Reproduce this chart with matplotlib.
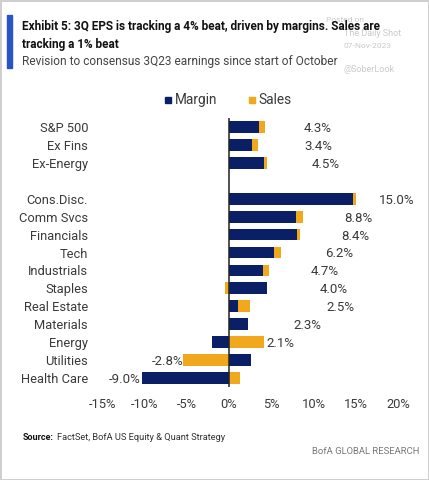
import numpy as np
import matplotlib
matplotlib.use("Agg")
import matplotlib.pyplot as plt
from matplotlib.patches import Rectangle

plt.rcParams['font.family'] = ['Roboto', 'DejaVu Sans']

# data: revision to consensus 3Q23 earnings (%), margin and sales contributions
categories = ['S&P 500', 'Ex Fins', 'Ex-Energy',
              'Cons.Disc.', 'Comm Svcs', 'Financials', 'Tech', 'Industrials',
              'Staples', 'Real Estate', 'Materials', 'Energy', 'Utilities', 'Health Care']
margin = [3.6, 2.7, 4.1, 14.7, 7.9, 8.1, 5.3, 4.0, 4.5, 1.1, 2.3, -2.0, 2.6, -10.3]
sales = [0.7, 0.7, 0.4, 0.3, 0.9, 0.3, 0.9, 0.7, -0.5, 1.4, 0.0, 4.1, -5.4, 1.3]
totals = [4.3, 3.4, 4.5, 15.0, 8.8, 8.4, 6.2, 4.7, 4.0, 2.5, 2.3, 2.1, -2.8, -9.0]
# where the total labels sit (x, in %), as placed in the original exhibit
label_pos = [8.8, 8.9, 9.8, 17.8, 13.7, 13.3, 11.4, 9.7, 10.7, 11.5, 7.6, 4.4, -5.4, -10.4]
xticks = [-15, -10, -5, 0, 5, 10, 15, 20]

navy = '#0b1f66'
orange = '#f2a81d'
grey = '#3a3a3a'

margin = np.array(margin)
sales = np.array(sales)
# one blank row between the index rows and the sectors
ypos = np.array([0, 1, 2] + list(range(4, 15)))
# sales stacks on margin only when both go the same way
sales_left = np.where(np.sign(sales) == np.sign(margin), margin, 0)

fig = plt.figure(figsize=(4.29, 4.80), dpi=100)
fig.patch.set_edgecolor('#cfcfcf')
fig.patch.set_linewidth(2)

ax = fig.add_axes([102 / 429, 1 - 387 / 480, 296 / 429, 269 / 480])
ax.barh(ypos, margin, height=0.66, color=navy, label='Margin')
ax.barh(ypos, sales, left=sales_left, height=0.66, color=orange, label='Sales')
ax.axvline(0, color='#222222', lw=1.1)

for y, x, t in zip(ypos, label_pos, totals):
    ax.text(x, y + 0.08, f"{t:.1f}%", ha='left' if t >= 0 else 'right', va='center',
            fontsize=9.5, color=grey)

ax.set_xlim(-15, 20)
ax.set_ylim(14.5, -0.5)
ax.set_xticks(xticks)
ax.set_xticklabels([f"{t}%" for t in xticks])
ax.set_yticks(ypos)
ax.set_yticklabels(categories)
ax.tick_params(length=0, labelsize=9.3, labelcolor=grey)
ax.tick_params(axis='x', pad=8)
ax.tick_params(axis='y', pad=10)
for s in ax.spines.values():
    s.set_visible(False)

# legend
fig.patches.append(Rectangle((165 / 429, 1 - 103 / 480), 6 / 429, 6 / 480,
                             transform=fig.transFigure, color=navy))
fig.text(175 / 429, 1 - 100 / 480, 'Margin', fontsize=9.8, color=grey, va='center')
fig.patches.append(Rectangle((249 / 429, 1 - 103 / 480), 6 / 429, 6 / 480,
                             transform=fig.transFigure, color=orange))
fig.text(258 / 429, 1 - 100 / 480, 'Sales', fontsize=9.8, color=grey, va='center')

# watermark
wm = '#cacaca'
fig.text(326 / 429, 1 - 20 / 480, 'Posted on', fontsize=6, color=wm, va='center', zorder=0)
fig.text(344 / 429, 1 - 33 / 480, 'The Daily Shot', fontsize=6.5, color=wm, va='center', zorder=0)
fig.text(343 / 429, 1 - 46 / 480, '07-Nov-2023', fontsize=6, color=wm, va='center', zorder=0)
fig.text(343 / 429, 1 - 69 / 480, '@SoberLook', fontsize=6.5, color=wm, va='center', zorder=0)

# title block
fig.patches.append(Rectangle((7 / 429, 1 - 68 / 480), 5 / 429, 53 / 480,
                             transform=fig.transFigure, color='#2b55c4'))
fig.text(22 / 429, 1 - 30 / 480,
         'Exhibit 5: 3Q EPS is tracking a 4% beat, driven by margins. Sales are',
         fontsize=8.45, fontweight='bold', color='#111111', va='baseline')
fig.text(22 / 429, 1 - 48 / 480, 'tracking a 1% beat',
         fontsize=8.45, fontweight='bold', color='#111111', va='baseline')
fig.text(22 / 429, 1 - 65 / 480, 'Revision to consensus 3Q23 earnings since start of October',
         fontsize=8.6, color='#444444', va='baseline')

# footer
fig.text(23 / 429, 1 - 437 / 480, 'Source:', fontsize=6.5, fontweight='bold',
         color='#111111', va='center')
fig.text(57 / 429, 1 - 437 / 480, 'FactSet, BofA US Equity & Quant Strategy',
         fontsize=6.7, color='#333333', va='center')
fig.text(419 / 429, 1 - 452 / 480, 'BofA GLOBAL RESEARCH', fontsize=6.8,
         color='#777777', va='center', ha='right')

fig.savefig('out.png', dpi=100, edgecolor=fig.get_edgecolor())
